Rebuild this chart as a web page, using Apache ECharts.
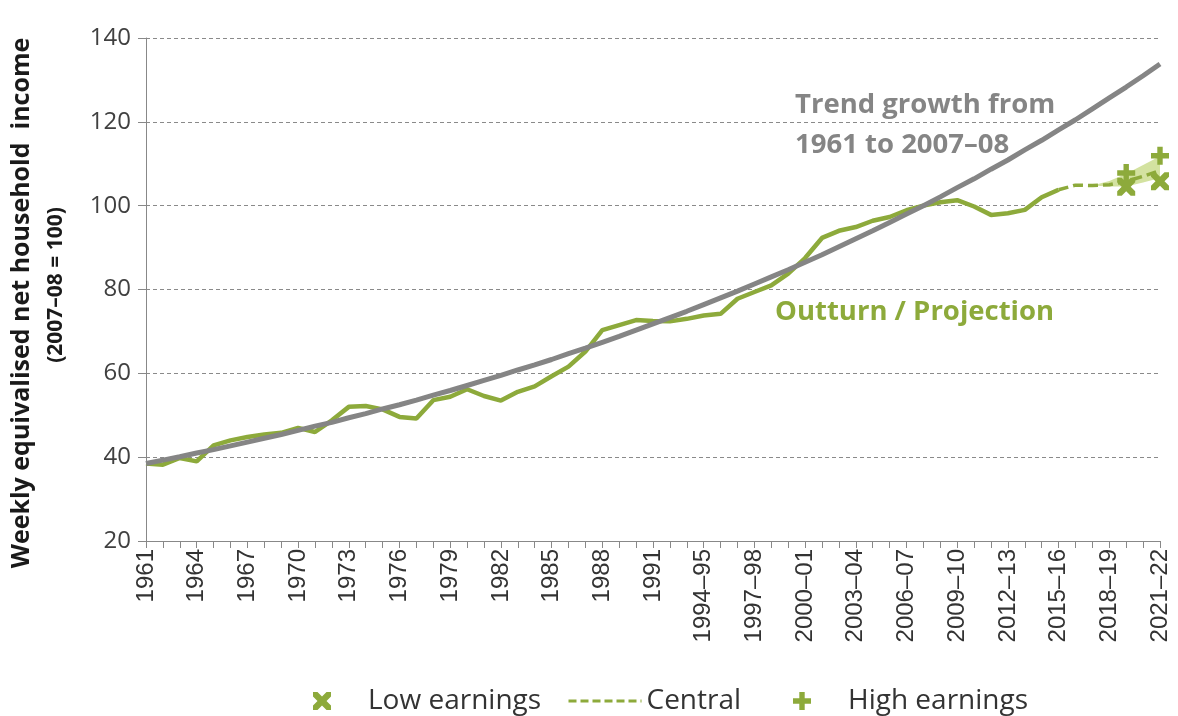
<!DOCTYPE html>
<html>
<head>
<meta charset="utf-8">
<script src="https://cdn.jsdelivr.net/npm/echarts@6/dist/echarts.min.js"></script>
<style>
html,body{margin:0;padding:0;background:#fff;}
#chart{width:1178px;height:716px;}
</style>
</head>
<body>
<div id="chart"></div>
<script>
// ---- DATA ----
const categories = ['1961','1962','1963','1964','1965','1966','1967','1968','1969','1970',
 '1971','1972','1973','1974','1975','1976','1977','1978','1979','1980',
 '1981','1982','1983','1984','1985','1986','1987','1988','1989','1990',
 '1991','1992','1993–94','1994–95','1995–96','1996–97','1997–98','1998–99','1999–00','2000–01',
 '2001–02','2002–03','2003–04','2004–05','2005–06','2006–07','2007–08','2008–09','2009–10','2010–11',
 '2011–12','2012–13','2013–14','2014–15','2015–16','2016–17','2017–18','2018–19','2019–20','2020–21','2021–22'];

const outturn = [38.5,38.2,39.8,39.0,42.8,44.0,44.8,45.4,45.8,47.0,
 46.0,48.8,52.0,52.2,51.4,49.6,49.2,53.6,54.4,56.2,
 54.6,53.5,55.6,56.9,59.3,61.6,65.2,70.3,71.5,72.7,
 72.5,72.4,73.0,73.8,74.2,77.8,79.4,81.0,83.8,87.5,
 92.3,94.0,94.9,96.4,97.3,98.9,100.0,100.8,101.3,99.8,
 97.8,98.2,99.0,102.0,103.8,null,null,null,null,null,null];

const central = [null,null,null,null,null,null,null,null,null,null,
 null,null,null,null,null,null,null,null,null,null,
 null,null,null,null,null,null,null,null,null,null,
 null,null,null,null,null,null,null,null,null,null,
 null,null,null,null,null,null,null,null,null,null,
 null,null,null,null,103.8,104.9,104.8,105.0,105.8,107.0,108.4];

const trend = [38.5,39.3,40.1,41.0,41.8,42.7,43.6,44.5,45.4,46.4,
 47.4,48.3,49.4,50.4,51.5,52.5,53.6,54.8,55.9,57.1,
 58.3,59.5,60.8,62.0,63.3,64.7,66.0,67.4,68.8,70.3,
 71.8,73.3,74.8,76.4,78.0,79.6,81.3,83.0,84.7,86.5,
 88.3,90.2,92.1,94.0,96.0,98.0,100.0,102.1,104.3,106.4,
 108.7,110.9,113.3,115.6,118.1,120.5,123.1,125.7,128.3,131.0,133.8];

const bandLow  = {'2017–18':104.8,'2018–19':104.6,'2019–20':104.6,'2020–21':105.5,'2021–22':106.6};
const bandHigh = {'2017–18':104.8,'2018–19':105.9,'2019–20':107.6,'2020–21':109.7,'2021–22':111.8};

const lowEarnings  = [['2019–20',104.5],['2021–22',105.8]];
const highEarnings = [['2019–20',107.8],['2021–22',111.9]];

const yTicks = {min:20, max:140, step:20};

// ---- STYLE ----
const GREEN = '#8DAA3B';
const GREY = '#858585';
const X_PATH = 'path://M0,0 L5,0 L10,5 L15,0 L20,0 L20,5 L15,10 L20,15 L20,20 L15,20 L10,15 L5,20 L0,20 L0,15 L5,10 L0,5 Z';
const P_PATH = 'path://M7,0 L13,0 L13,7 L20,7 L20,13 L13,13 L13,20 L7,20 L7,13 L0,13 L0,7 L7,7 Z';

const lowArr = categories.map(c => (c in bandLow) ? bandLow[c] : null);
const diffArr = categories.map(c => (c in bandHigh) ? +(bandHigh[c]-bandLow[c]).toFixed(2) : null);

const chart = echarts.init(document.getElementById('chart'));
const legendCommon = {
  top: 687, orient: 'horizontal', padding: 0,
  itemHeight: 18,
  textStyle: {fontFamily: 'Open Sans', fontSize: 28, color: '#333'}
};
chart.setOption({
  animation: false,
  backgroundColor: '#fff',
  grid: {left: 146, right: 18, top: 38, bottom: 175, containLabel: false},
  xAxis: {
    type: 'category', data: categories, boundaryGap: false,
    axisLine: {show: true, lineStyle: {color: '#888', width: 1}},
    axisTick: {show: true, interval: 0, length: 7, lineStyle: {color: '#888'}},
    axisLabel: {interval: 2, rotate: 90, margin: 8, fontFamily: 'Liberation Sans', fontSize: 24, color: '#333'},
    splitLine: {show: false}
  },
  yAxis: {
    type: 'value', min: yTicks.min, max: yTicks.max, interval: yTicks.step,
    axisLine: {show: true, lineStyle: {color: '#888', width: 1}},
    axisTick: {show: true, inside: false, length: 8, lineStyle: {color: '#888'}},
    axisLabel: {margin: 15, fontFamily: 'Open Sans', fontSize: 24, color: '#404040'},
    splitLine: {show: true, lineStyle: {color: '#8a8a8a', type: [4, 3], width: 1}}
  },
  legend: [
    Object.assign({}, legendCommon, {left: 313, itemWidth: 82, data: [{name: 'Low earnings', icon: X_PATH, itemStyle: {color: GREEN}}]}),
    Object.assign({}, legendCommon, {left: 567, itemWidth: 73, data: [{name: 'Central', itemStyle: {color: 'rgba(0,0,0,0)', opacity: 0, borderWidth: 0}, lineStyle: {width: 3, type: [8, 4]}}]}),
    Object.assign({}, legendCommon, {left: 793, itemWidth: 82, data: [{name: 'High earnings', icon: P_PATH, itemStyle: {color: GREEN}}]})
  ],
  series: [
    {name: 'bandBase', type: 'line', stack: 'band', data: lowArr, symbol: 'none',
     lineStyle: {width: 0, opacity: 0}, silent: true, z: 1},
    {name: 'bandFill', type: 'line', stack: 'band', data: diffArr, symbol: 'none',
     lineStyle: {width: 0, opacity: 0}, areaStyle: {color: '#d3e2a0', opacity: 1}, silent: true, z: 1},
    {name: 'Outturn', type: 'line', data: outturn, symbol: 'none', connectNulls: false,
     lineStyle: {color: GREEN, width: 4.5}, itemStyle: {color: GREEN}, z: 3},
    {name: 'Central', type: 'line', data: central, symbol: 'none',
     lineStyle: {color: GREEN, width: 3.5, type: [10, 5]}, itemStyle: {color: GREEN}, z: 3},
    {name: 'Trend', type: 'line', data: trend, symbol: 'none',
     lineStyle: {color: GREY, width: 5}, itemStyle: {color: GREY}, z: 4},
    {name: 'Low earnings', type: 'scatter', data: lowEarnings, symbol: X_PATH, symbolSize: 18,
     itemStyle: {color: GREEN, opacity: 1}, z: 5},
    {name: 'High earnings', type: 'scatter', data: highEarnings, symbol: P_PATH, symbolSize: 18,
     itemStyle: {color: GREEN, opacity: 1}, z: 5}
  ],
  graphic: [
    {type: 'text', x: 795, y: 105, style: {text: 'Trend growth from', fontFamily: 'Open Sans', fontWeight: 'bold', fontSize: 27.5, fill: GREY, verticalAlign: 'middle'}},
    {type: 'text', x: 795, y: 145, style: {text: '1961 to 2007–08', fontFamily: 'Open Sans', fontWeight: 'bold', fontSize: 27.5, fill: GREY, verticalAlign: 'middle'}},
    {type: 'text', x: 775, y: 312, style: {text: 'Outturn / Projection', fontFamily: 'Open Sans', fontWeight: 'bold', fontSize: 27.5, fill: GREEN, verticalAlign: 'middle'}},
    {type: 'text', x: 22, y: 303, rotation: Math.PI / 2, style: {text: 'Weekly equivalised net household  income', fontFamily: 'Open Sans', fontWeight: 'bold', fontSize: 25, fill: '#1a1a1a', align: 'center', verticalAlign: 'middle'}},
    {type: 'text', x: 56, y: 285, rotation: Math.PI / 2, style: {text: '(2007–08 = 100)', fontFamily: 'Open Sans', fontWeight: 'bold', fontSize: 21, fill: '#1a1a1a', align: 'center', verticalAlign: 'middle'}}
  ]
});
</script>
</body>
</html>
